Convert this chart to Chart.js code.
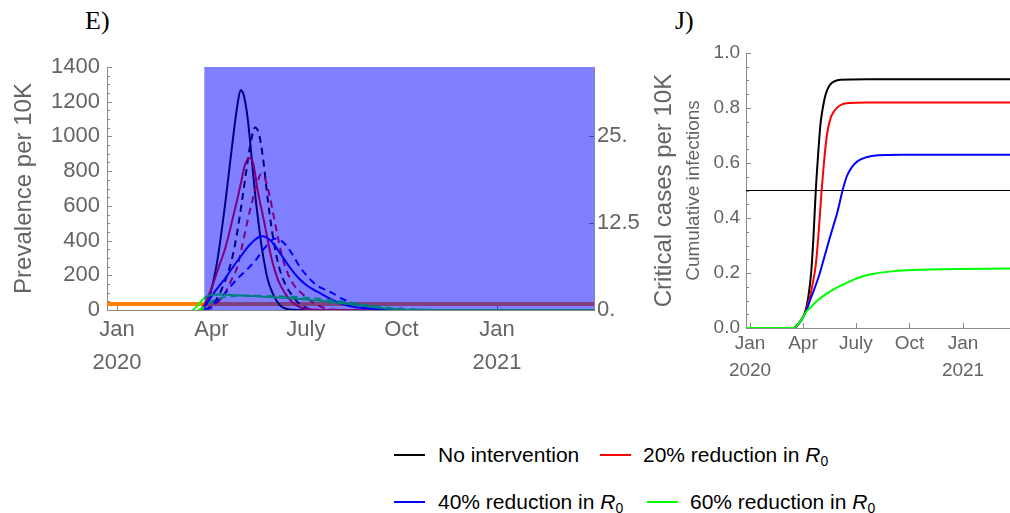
<!DOCTYPE html>
<html>
<head>
<meta charset="utf-8">
<script src="https://cdn.jsdelivr.net/npm/chart.js@4"></script>
<style>
  body { margin: 0; background: #fff; width: 1010px; height: 513px; position: relative; overflow: hidden;
         font-family: "Liberation Sans", Arial, sans-serif; }
  canvas { position: absolute; top: 0; }
  #cvE { left: 0; }
  #cvJ { left: 640px; }
  .tag { position: absolute; font-family: "Liberation Serif", "Times New Roman", serif; font-size: 26px; line-height: 26px; color: #000; }
  .item { position: absolute; display: flex; align-items: center; height: 24px; font-size: 21px; color: #000; white-space: nowrap; }
  .item .sw { width: 31px; height: 2px; margin-right: 13px; }
  .item sub { font-size: 14px; vertical-align: -4px; line-height: 0; }
</style>
</head>
<body>
<div class="tag" style="left:85px; top:8px">E)</div>
<div class="tag" style="left:675px; top:8px">J)</div>
<canvas id="cvE" width="640" height="400"></canvas>
<canvas id="cvJ" width="370" height="400"></canvas>
<div id="legend"></div>

<script>
// days counted from 1 Jan 2020
const xTickDays = [0, 91, 182, 274, 366];
const xTickLabels = [['Jan', '2020'], ['Apr', ''], ['July', ''], ['Oct', ''], ['Jan', '2021']];
const rightTickValues = [0, 12.5, 25];
const rightTickLabels = ['0.', '12.5', '25.'];

// prevalence per 10K, [day, value]
const eBlackSolid = [[80,0],[84,15],[88,60],[90,96],[93,170],[96,260],[100,420],[104,600],[108,800],[112,1000],[116,1180],[119,1266],[122,1240],[126,1100],[130,860],[133,672],[136,520],[139,380],[142,270],[145,180],[150,96],[154,50],[158,22],[163,7],[170,1],[180,0],[460,0]];
const eBlackDash = [[84,0],[90,20],[95,55],[99,96],[103,150],[107,215],[111,300],[115,420],[120,610],[125,820],[129,970],[133,1052],[137,1010],[141,860],[145,650],[149,470],[153,330],[157,230],[162,150],[168,90],[174,45],[180,18],[186,5],[195,0],[460,0]];
const eRedSolid = [[80,0],[84,30],[88,80],[92,140],[96,210],[100,280],[104,350],[108,440],[112,540],[116,640],[119,720],[123,830],[127,876],[131,850],[136,672],[140,560],[144,440],[148,320],[151,250],[156,160],[162,96],[168,50],[175,20],[182,7],[190,1],[200,0],[460,0]];
const eRedDash = [[86,0],[92,20],[98,50],[104,96],[110,170],[116,250],[121,380],[126,520],[130,620],[134,710],[139,784],[143,750],[147,660],[151,540],[155,420],[159,310],[162,250],[166,190],[172,130],[178,96],[186,55],[194,25],[202,8],[210,2],[220,0],[460,0]];
const eBlueSolid = [[80,0],[84,20],[88,50],[93,96],[98,135],[104,180],[112,250],[120,315],[127,370],[133,405],[139,426],[145,415],[151,380],[158,320],[166,250],[174,190],[182,145],[190,115],[196,96],[205,65],[215,38],[225,22],[237,11],[250,4],[265,1],[280,0],[460,0]];
const eBlueDash = [[84,0],[90,15],[97,55],[104,96],[110,140],[116,180],[122,215],[128,250],[134,290],[140,340],[146,385],[152,411],[158,400],[164,365],[170,310],[176,250],[184,190],[192,145],[200,118],[208,96],[218,62],[228,38],[238,22],[250,10],[262,3],[280,0],[460,0]];
const eGreenSolid = [[73,0],[76,15],[80,42],[84,68],[88,82],[92,88],[100,89],[110,87],[120,84],[130,80],[140,77],[150,73],[160,70],[170,66],[180,62],[190,56],[200,50],[212,42],[224,34],[237,24],[250,15],[262,8],[275,3],[290,1],[310,0],[460,0]];
const eGreenDash = [[78,0],[82,10],[86,28],[90,45],[95,60],[100,70],[108,78],[116,81],[125,82],[135,82],[145,81],[155,79],[165,77],[175,74],[185,70],[195,64],[205,57],[215,50],[225,42],[237,32],[250,22],[262,13],[275,6],[290,2],[310,0],[460,0]];
const eCapacity = [[-10,35],[460,35]];
const eIntervention = [[84,1400],[460,1400]];

// cumulative infections, [day, fraction]
const jNone = [[-7,0],[75,0],[82,0.012],[90,0.036],[95,0.06],[100,0.11],[105,0.2],[109,0.33],[113,0.5],[117,0.63],[121,0.74],[125,0.8],[130,0.85],[136,0.88],[143,0.895],[155,0.903],[200,0.905],[447,0.905]];
const jR20 = [[-7,0],[75,0],[82,0.012],[90,0.035],[97,0.07],[103,0.114],[108,0.165],[113,0.23],[118,0.35],[123,0.5],[127,0.6],[132,0.7],[138,0.76],[145,0.79],[155,0.81],[170,0.818],[200,0.82],[447,0.82]];
const jR40 = [[-7,0],[75,0],[82,0.012],[90,0.034],[97,0.065],[103,0.1],[112,0.15],[120,0.2],[128,0.26],[136,0.32],[143,0.37],[150,0.42],[159,0.5],[166,0.55],[175,0.585],[185,0.607],[200,0.621],[220,0.628],[260,0.63],[447,0.63]];
const jR60 = [[-7,0],[75,0],[82,0.012],[90,0.035],[97,0.06],[105,0.077],[115,0.098],[125,0.115],[140,0.136],[155,0.153],[170,0.168],[183,0.18],[197,0.19],[212,0.197],[240,0.205],[269,0.21],[326,0.214],[447,0.216]];
const jHalf = [[-7,0.5],[447,0.5]];

const scenarioNames = ['No intervention', '20% reduction in', '40% reduction in', '60% reduction in'];
const scenarioColors = ['#000000', '#ff0000', '#0000ff', '#00ff00'];

Chart.defaults.font.family = '"Liberation Sans", Arial, sans-serif';
Chart.defaults.color = '#646464';
const axisGray = '#8a8a8a';

function pts(arr) {
  return arr.map(p => ({ x: p[0], y: p[1] }));
}

function curve(arr, color, dashed, width, order) {
  return {
    data: pts(arr), borderColor: color, borderWidth: width, borderDash: dashed ? [7, 5] : [],
    pointRadius: 0, fill: false, cubicInterpolationMode: 'monotone', order: order
  };
}

// tick marks pointing into the plot
function inwardTicks(marks) {
  return {
    id: 'inwardTicks',
    beforeDatasetsDraw(chart) {
      const ctx = chart.ctx;
      ctx.save();
      ctx.lineWidth = 1;
      ctx.strokeStyle = axisGray;
      marks.forEach(m => {
        const s = chart.scales[m.scale];
        let values = s.ticks.map(t => t.value);
        if (m.step) {
          values = [];
          for (let v = s.min; v <= s.max + 1e-9; v += m.step) values.push(v);
        }
        ctx.beginPath();
        values.forEach(v => {
          const p = Math.round(s.getPixelForValue(v)) + 0.5;
          if (s.isHorizontal()) {
            ctx.moveTo(p, s.top); ctx.lineTo(p, s.top - m.len);
          } else if (s.position === 'left') {
            ctx.moveTo(s.right, p); ctx.lineTo(s.right + m.len, p);
          } else {
            ctx.moveTo(s.left, p); ctx.lineTo(s.left - m.len, p);
          }
        });
        ctx.stroke();
      });
      ctx.restore();
    }
  };
}

const noGrid = { display: false, drawTicks: false };

new Chart(document.getElementById('cvE'), {
  type: 'line',
  data: {
    datasets: [
      { data: pts(eIntervention), borderColor: 'rgba(0,0,0,0)', borderWidth: 0, pointRadius: 0,
        fill: 'origin', backgroundColor: 'rgba(0,0,255,0.5)', order: 0 },
      curve(eGreenDash, '#00ff00', true, 2, 1),
      curve(eGreenSolid, '#00ff00', false, 2, 2),
      curve(eBlueDash, '#0000ff', true, 2, 3),
      curve(eBlueSolid, '#0000ff', false, 2, 4),
      curve(eRedDash, '#ff0000', true, 2, 5),
      curve(eRedSolid, '#ff0000', false, 2, 6),
      curve(eBlackDash, '#000000', true, 2, 7),
      curve(eBlackSolid, '#000000', false, 2, 8),
      { data: pts(eCapacity), borderColor: '#ff8000', borderWidth: 4, pointRadius: 0, fill: false, order: 20 }
    ]
  },
  options: {
    responsive: false, animation: false, devicePixelRatio: 1,
    layout: { padding: { top: 67, left: 0, right: 0, bottom: 0 } },
    plugins: { legend: { display: false }, tooltip: { enabled: false } },
    scales: {
      x: {
        type: 'linear', min: -9.6, max: 459.5,
        afterBuildTicks: s => { s.ticks = xTickDays.map(v => ({ value: v })); },
        afterFit: s => { s.height = 90; },
        grid: noGrid, border: { color: axisGray },
        ticks: { autoSkip: false, maxRotation: 0, padding: 3, font: { size: 22, lineHeight: 1.5 },
                 callback: (v, i) => xTickLabels[i] }
      },
      y: {
        type: 'linear', position: 'left', min: 0, max: 1400,
        afterFit: s => { s.width = 107; },
        grid: noGrid, border: { color: axisGray },
        ticks: { stepSize: 200, padding: 7, font: { size: 22 }, callback: v => String(v) },
        title: { display: true, text: 'Prevalence per 10K', font: { size: 24 }, padding: { top: 10, bottom: 0 } }
      },
      y2: {
        type: 'linear', position: 'right', min: 0, max: 35,
        afterBuildTicks: s => { s.ticks = rightTickValues.map(v => ({ value: v })); },
        afterFit: s => { s.width = 46; },
        grid: noGrid, border: { color: axisGray },
        ticks: { padding: 3, font: { size: 22 }, callback: (v, i) => rightTickLabels[i] }
      }
    }
  },
  plugins: [inwardTicks([
    { scale: 'x', len: 6 },
    { scale: 'y', len: 5 },
    { scale: 'y', len: 3, step: 50 },
    { scale: 'y2', len: 5 }
  ])]
});

new Chart(document.getElementById('cvJ'), {
  type: 'line',
  data: {
    datasets: [
      curve(jR60, scenarioColors[3], false, 2, 1),
      curve(jR40, scenarioColors[2], false, 2, 2),
      curve(jR20, scenarioColors[1], false, 2, 3),
      curve(jNone, scenarioColors[0], false, 2, 4),
      { data: pts(jHalf), borderColor: '#000', borderWidth: 1.2, pointRadius: 0, fill: false, order: 5 }
    ]
  },
  options: {
    responsive: false, animation: false, devicePixelRatio: 1,
    layout: { padding: { top: 53, left: 0, right: 0, bottom: 0 } },
    plugins: { legend: { display: false }, tooltip: { enabled: false } },
    scales: {
      x: {
        type: 'linear', min: -6.9, max: 446.7,
        afterBuildTicks: s => { s.ticks = xTickDays.map(v => ({ value: v })); },
        afterFit: s => { s.height = 72; },
        grid: noGrid, border: { color: axisGray },
        ticks: { autoSkip: false, maxRotation: 0, padding: 2, font: { size: 19, lineHeight: 1.42 },
                 callback: (v, i) => xTickLabels[i] }
      },
      y: {
        type: 'linear', position: 'left', min: 0, max: 1,
        afterFit: s => { s.width = 40; },
        grid: noGrid, border: { color: axisGray },
        ticks: { stepSize: 0.2, padding: 6, font: { size: 19 }, callback: v => v.toFixed(1) }
      },
      yCum: {
        type: 'linear', position: 'left', weight: 1,
        afterFit: s => { s.width = 26; },
        grid: noGrid, border: { display: false }, ticks: { display: false },
        title: { display: true, text: 'Cumulative infections', font: { size: 19 }, padding: { top: 2, bottom: 0 } }
      },
      yCrit: {
        type: 'linear', position: 'left', weight: 2,
        afterFit: s => { s.width = 40; },
        grid: noGrid, border: { display: false }, ticks: { display: false },
        title: { display: true, text: 'Critical cases per 10K', font: { size: 24 }, padding: { top: 10, bottom: 0 } }
      }
    }
  },
  plugins: [inwardTicks([
    { scale: 'x', len: 5 },
    { scale: 'y', len: 5 },
    { scale: 'y', len: 3, step: 0.05 }
  ])]
});

// legend under the two panels
const legendSpots = [[394, 443], [600, 443], [394, 490], [647, 490]];
const legend = document.getElementById('legend');
scenarioNames.forEach((name, i) => {
  const item = document.createElement('div');
  item.className = 'item';
  item.style.left = legendSpots[i][0] + 'px';
  item.style.top = legendSpots[i][1] + 'px';
  const sw = document.createElement('span');
  sw.className = 'sw';
  sw.style.background = scenarioColors[i];
  if (i === 1 || i === 3) sw.style.marginRight = '12px';
  const txt = document.createElement('span');
  txt.textContent = name;
  item.appendChild(sw);
  item.appendChild(txt);
  if (i > 0) {
    const r = document.createElement('span');
    r.innerHTML = '&nbsp;<i>R</i><sub>0</sub>';
    item.appendChild(r);
  }
  legend.appendChild(item);
});
</script>
</body>
</html>
